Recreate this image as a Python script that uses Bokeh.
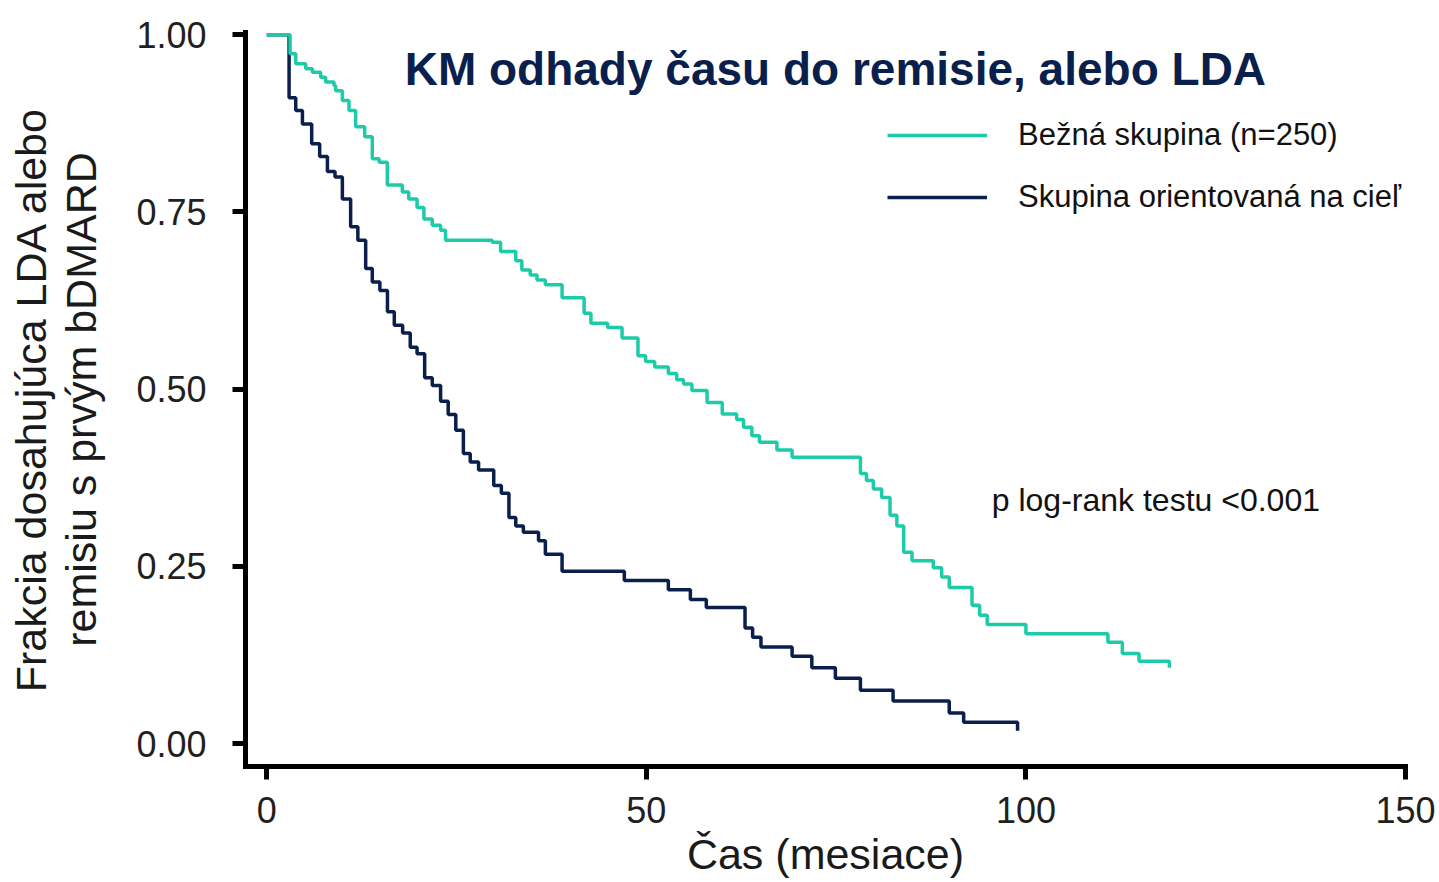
from bokeh.plotting import figure
from bokeh.models import FixedTicker, Legend, LegendItem, Label, Range1d, PrintfTickFormatter
from bokeh.embed import file_html
from bokeh.resources import INLINE

# ---------------- data ----------------
title_text = "KM odhady času do remisie, alebo LDA"
x_label = "Čas (mesiace)"
y_label = "Frakcia dosahujúca LDA alebo\nremisiu s prvým bDMARD"
legend_labels = ["Bežná skupina (n=250)", "Skupina orientovaná na cieľ"]
pvalue_text = "p log-rank testu <0.001"

x_ticks = [0, 50, 100, 150]
y_ticks = [0.0, 0.25, 0.5, 0.75, 1.0]

bezna_time = [0, 3.07, 3.82, 5.13, 6.01, 7.10, 7.76, 8.86, 9.08, 9.96, 10.83, 11.71,
              12.90, 13.90, 14.80, 15.88, 17.86, 18.70, 19.80, 20.70, 21.80, 22.90,
              23.55, 29.70, 30.80, 32.80, 33.60, 34.70, 35.60, 36.70, 38.90, 41.80,
              42.70, 44.90, 46.80, 48.90, 49.90, 51.10, 52.90, 54.00, 54.90, 56.00,
              58.00, 60.00, 61.90, 62.80, 63.90, 64.90, 67.20, 69.20, 78.20, 79.00,
              79.90, 81.00, 82.10, 83.00, 83.90, 85.00, 87.80, 88.90, 89.90, 92.90,
              93.90, 94.90, 100.0, 110.8, 112.7, 114.9, 118.9]
bezna_surv = [1.0, 0.973, 0.959, 0.952, 0.947, 0.940, 0.933, 0.928, 0.921, 0.907, 0.893, 0.870,
              0.856, 0.825, 0.820, 0.788, 0.778, 0.768, 0.756, 0.740, 0.731, 0.724,
              0.710, 0.707, 0.694, 0.681, 0.668, 0.661, 0.654, 0.647, 0.629, 0.607,
              0.593, 0.587, 0.572, 0.547, 0.539, 0.531, 0.522, 0.513, 0.507, 0.498,
              0.481, 0.465, 0.457, 0.446, 0.434, 0.425, 0.414, 0.404, 0.381, 0.371,
              0.359, 0.347, 0.322, 0.307, 0.270, 0.258, 0.248, 0.235, 0.220, 0.195,
              0.181, 0.168, 0.155, 0.143, 0.127, 0.116, 0.107]

ciel_time = [0, 2.94, 3.82, 4.70, 5.92, 6.97, 7.99, 8.99, 9.96, 11.05, 12.00, 13.03,
             13.90, 14.90, 15.90, 16.80, 17.90, 18.90, 19.80, 20.80, 21.80, 22.90,
             23.90, 24.90, 25.90, 26.80, 27.90, 29.90, 30.90, 31.90, 32.80, 33.80,
             35.80, 36.70, 38.90, 47.10, 52.90, 55.80, 57.90, 63.00, 64.00, 65.10,
             69.20, 71.80, 74.90, 78.20, 82.50, 89.90, 91.80, 98.90]
ciel_surv = [1.0, 0.911, 0.893, 0.874, 0.846, 0.828, 0.807, 0.799, 0.768, 0.729, 0.710, 0.670,
             0.651, 0.639, 0.609, 0.590, 0.579, 0.559, 0.550, 0.516, 0.505, 0.483,
             0.464, 0.442, 0.409, 0.397, 0.386, 0.364, 0.353, 0.319, 0.307, 0.298,
             0.286, 0.267, 0.243, 0.230, 0.217, 0.203, 0.192, 0.163, 0.150, 0.136,
             0.123, 0.107, 0.092, 0.075, 0.060, 0.043, 0.030, 0.018]

# ---------------- styles ----------------
TEAL = "#1ECBA9"
NAVY = "#0B1F4C"
FONT = "Liberation Sans"

p = figure(width=1439, height=882, output_backend="svg", toolbar_location=None,
           x_range=Range1d(-2.8, 150), y_range=Range1d(-0.0324, 1.003),
           min_border_left=245, min_border_right=34, min_border_top=32, min_border_bottom=116)
p.outline_line_color = None
p.xgrid.visible = False
p.ygrid.visible = False
p.background_fill_color = "white"
p.border_fill_color = "white"

r_ciel = p.step(ciel_time, ciel_surv, mode="after", line_color=NAVY, line_width=3.5)
r_bezna = p.step(bezna_time, bezna_surv, mode="after", line_color=TEAL, line_width=3.5)

for ax in (p.xaxis[0], p.yaxis[0]):
    ax.axis_line_width = 5
    ax.axis_line_color = "black"
    ax.axis_line_cap = "square"
    ax.major_tick_line_width = 5
    ax.major_tick_line_color = "black"
    ax.major_tick_out = 13
    ax.major_tick_in = 0
    ax.minor_tick_line_color = None
    ax.major_label_text_font = FONT
    ax.major_label_text_font_size = "36px"
    ax.major_label_text_color = "#231F20"
    ax.axis_label_text_font = FONT
    ax.axis_label_text_font_style = "normal"
    ax.axis_label_text_font_size = "43px"
    ax.axis_label_text_color = "#1A1A1A"

p.xaxis.ticker = FixedTicker(ticks=x_ticks)
p.yaxis.ticker = FixedTicker(ticks=y_ticks)
p.yaxis.formatter = PrintfTickFormatter(format="%.2f")
p.xaxis.major_label_standoff = 17
p.yaxis.major_label_standoff = 26
p.xaxis.axis_label = x_label
p.yaxis.axis_label = y_label
p.xaxis.axis_label_standoff = 4
p.yaxis.axis_label_standoff = 28
p.yaxis.axis_label_text_line_height = 1.05

legend = Legend(items=[LegendItem(label=legend_labels[0], renderers=[r_bezna]),
                       LegendItem(label=legend_labels[1], renderers=[r_ciel])],
                location=(642, 549), orientation="vertical",
                glyph_width=100, glyph_height=40, label_standoff=31, spacing=22,
                padding=0, margin=0, border_line_color=None, background_fill_alpha=0,
                label_text_font=FONT, label_text_font_size="31px", label_text_color="#111111")
p.add_layout(legend, "center")

p.add_layout(Label(x=95.5, y=0.344, text=pvalue_text, text_font=FONT,
                   text_font_size="32px", text_color="#111111", text_baseline="alphabetic"))
p.add_layout(Label(x=74.9, y=0.951, text=title_text, text_font=FONT, text_font_style="bold",
                   text_font_size="46px", text_color=NAVY, text_align="center",
                   text_baseline="alphabetic"))

open("out.html", "w").write(file_html(p, INLINE))
